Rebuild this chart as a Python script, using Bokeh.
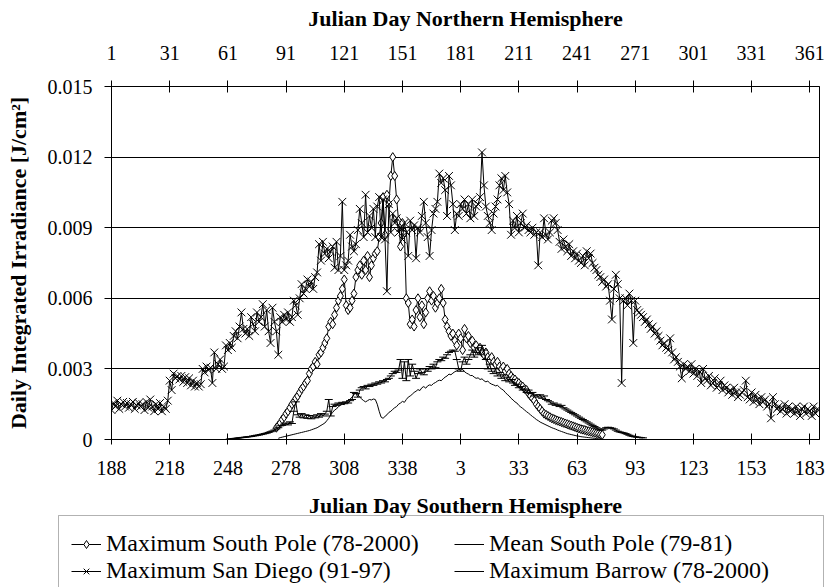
from bokeh.plotting import figure
from bokeh.layouts import column
from bokeh.models import (Range1d, LinearAxis, FixedTicker, Legend, LegendItem,
                          BoxAnnotation, Label)
from bokeh.embed import file_html
from bokeh.resources import INLINE

FONT = "Liberation Serif"

# ---- axis ticks -------------------------------------------------------------
north_ticks = [1, 31, 61, 91, 121, 151, 181, 211, 241, 271, 301, 331, 361]
south_tick_labels = ["188", "218", "248", "278", "308", "338", "3", "33",
                     "63", "93", "123", "153", "183"]
y_ticks = [0.0, 0.003, 0.006, 0.009, 0.012, 0.015]
y_tick_labels = ["0", "0.003", "0.006", "0.009", "0.012", "0.015"]

# ---- series (x = Julian day, northern hemisphere) ----------------------------
# Maximum San Diego (91-97), days 1..365
sd_first_day = 1
sd_vals = [
    .00125, .00155, .00140, .00165, .00130, .00150, .00160, .00140, .00155, .00135,
    .00150, .00160, .00130, .00145, .00155, .00140, .00150, .00125, .00160, .00135,
    .00170, .00140, .00120, .00150, .00130, .00155, .00120, .00140, .00130, .00165,
    .00250, .00210, .00280, .00260, .00270, .00255, .00270, .00245, .00265, .00240,
    .00260, .00230, .00250, .00225, .00240, .00225, .00235, .00300, .00285, .00310,
    .00295, .00305, .00240, .00370, .00300, .00320, .00340, .00300, .00310, .00400,
    .00380, .00410, .00390, .00440, .00460, .00430, .00480, .00540, .00470, .00450,
    .00470, .00440, .00520, .00490, .00460, .00540, .00500, .00520, .00575, .00480,
    .00550, .00460, .00410, .00560, .00500, .00460, .00360, .00520, .00500, .00530,
    .00510, .00540, .00500, .00520, .00590, .00570, .00530, .00600, .00660, .00620,
    .00640, .00680, .00650, .00670, .00640, .00690, .00710, .00830, .00760, .00840,
    .00790, .00810, .00770, .00800, .00820, .00730, .00840, .00720, .00780, .01010,
    .00720, .00740, .00760, .00870, .00820, .00800, .00830, .00890, .00980, .00920,
    .00860, .01040, .00880, .00950, .00900, .00980, .00860, .00990, .01030, .00860,
    .01020, .00850, .00630, .01000, .00880, .00960, .00920, .00940, .00880, .00900,
    .00850, .00920, .00880, .00780, .00930, .00890, .00910, .00770, .00900, .00880,
    .00950, .01010, .00920, .00860, .00780, .00890, .00960, .00980, .01010, .01130,
    .01090, .01110, .01060, .00950, .01120, .01080, .01000, .00890, .00960, .00950,
    .01000, .00980, .01020, .00960, .01000, .00940, .01020, .00950, .00990, .01000,
    .01030, .01220, .01080, .00990, .00950, .00920, .00890, .00960, .00990, .01020,
    .01080, .01110, .01060, .01120, .01050, .01000, .00870, .00930, .00900, .00950,
    .00880, .00920, .00960, .00900, .00910, .00890, .00880, .00900, .00870, .00880,
    .00740, .00880, .00860, .00940, .00870, .00850, .00880, .00930, .00940, .00920,
    .00890, .00840, .00810, .00850, .00820, .00800, .00830, .00780, .00800, .00770,
    .00790, .00760, .00750, .00780, .00740, .00800, .00770, .00790, .00750, .00730,
    .00720, .00700, .00690, .00670, .00680, .00650, .00660, .00590, .00510, .00640,
    .00700, .00660, .00600, .00240, .00590, .00600, .00570, .00620, .00590, .00410,
    .00590, .00550, .00540, .00530, .00520, .00500, .00510, .00490, .00470, .00480,
    .00450, .00460, .00440, .00420, .00400, .00410, .00390, .00380, .00430, .00370,
    .00340, .00350, .00330, .00310, .00260, .00320, .00300, .00310, .00290, .00320,
    .00280, .00300, .00270, .00290, .00240, .00300, .00260, .00250, .00270, .00230,
    .00240, .00260, .00220, .00230, .00250, .00210, .00230, .00220, .00200, .00210,
    .00190, .00220, .00200, .00180, .00190, .00200, .00210, .00250, .00180, .00170,
    .00200, .00160, .00190, .00170, .00150, .00180, .00160, .00170, .00140, .00150,
    .00090, .00180, .00150, .00130, .00140, .00120, .00130, .00150, .00110, .00140,
    .00120, .00130, .00110, .00140, .00120, .00100, .00130, .00140, .00110, .00130,
    .00120, .00100, .00140, .00110, .00130,
]

# Maximum South Pole (78-2000), southern days shifted onto the northern calendar
sp_first_day = 86
sp_vals = [
    .00050, .00060, .00070, .00085, .00095, .00110, .00120, .00135, .00150, .00160,
    .00175, .00185, .00200, .00215, .00225, .00240, .00250, .00280, .00300, .00310,
    .00330, .00320, .00360, .00370, .00390, .00410, .00430, .00480, .00500, .00490,
    .00530, .00560, .00590, .00610, .00640, .00680, .00570, .00550, .00560, .00590,
    .00620, .00690, .00720, .00740, .00700, .00760, .00720, .00780, .00690, .00740,
    .00770, .00790, .00800, .00860, .00920, .01030, .00870, .01040, .01000, .01120,
    .01200, .01120, .01020, .00930, .00820, .00920, .00880, .00600, .00580, .00490,
    .00510, .00480, .00550, .00600, .00520, .00570, .00490, .00540, .00600, .00630,
    .00590, .00610, .00560, .00580, .00600, .00640, .00580, .00510, .00480, .00460,
    .00440, .00450, .00420, .00400, .00450, .00430, .00380, .00470, .00430, .00440,
    .00410, .00420, .00390, .00400, .00380, .00390, .00370, .00360, .00370, .00350,
    .00340, .00350, .00330, .00320, .00330, .00310, .00300, .00310, .00290, .00300,
    .00280, .00270, .00260, .00255, .00245, .00240, .00230, .00225, .00215, .00210,
    .00195, .00185, .00175, .00165, .00150, .00140, .00130, .00120, .00110, .00105,
    .00100, .00095, .00090, .00087, .00083, .00080, .00077, .00074, .00071, .00068,
    .00065, .00062, .00059, .00056, .00053, .00050, .00047, .00044, .00042, .00040,
    .00037, .00035, .00033, .00031, .00029, .00027, .00025, .00022, .00020,
]

# Mean South Pole (79-81)
mean_first_day = 87
mean_vals = [
    .00005, .00008, .00010, .00012, .00014, .00016, .00018, .00020, .00022, .00024,
    .00026, .00028, .00030, .00032, .00034, .00036, .00038, .00041, .00044, .00047,
    .00050, .00055, .00060, .00065, .00070, .00080, .00090, .00105, .00115, .00125,
    .00130, .00140, .00145, .00150, .00148, .00160, .00165, .00172, .00180, .00190,
    .00200, .00190, .00180, .00172, .00165, .00160, .00165, .00170, .00168, .00172,
    .00170, .00150, .00120, .00095, .00090, .00098, .00105, .00115, .00120, .00128,
    .00135, .00140, .00150, .00155, .00162, .00158, .00170, .00180, .00185, .00192,
    .00200, .00205, .00212, .00208, .00220, .00225, .00218, .00228, .00232, .00230,
    .00238, .00242, .00248, .00252, .00250, .00258, .00265, .00270, .00278, .00275,
    .00282, .00288, .00292, .00296, .00302, .00298, .00288, .00282, .00278, .00272,
    .00272, .00265, .00260, .00262, .00255, .00258, .00250, .00245, .00248, .00240,
    .00235, .00232, .00228, .00230, .00222, .00215, .00210, .00200, .00192, .00185,
    .00175, .00168, .00160, .00155, .00145, .00138, .00132, .00125, .00118, .00112,
    .00105, .00098, .00092, .00085, .00080, .00074, .00070, .00066, .00062, .00058,
    .00054, .00050, .00047, .00044, .00040, .00037, .00034, .00031, .00028, .00025,
    .00023, .00021, .00019, .00017, .00015, .00014, .00012, .00011, .00010, .00009,
    .00008, .00007, .00006, .00005, .00004, .00003, .00002, .00001,
]

# Maximum Barrow (78-2000)
br_first_day = 61
br_vals = [
    .00000, .00002, .00003, .00004, .00005, .00006, .00007, .00008, .00009, .00010,
    .00011, .00012, .00013, .00015, .00016, .00018, .00019, .00021, .00023, .00025,
    .00027, .00030, .00033, .00036, .00040, .00045, .00050, .00058, .00060, .00065,
    .00070, .00062, .00075, .00068, .00120, .00160, .00105, .00095, .00110, .00092,
    .00105, .00090, .00102, .00088, .00100, .00092, .00105, .00095, .00110, .00100,
    .00108, .00120, .00170, .00100, .00140, .00150, .00145, .00155, .00150, .00158,
    .00152, .00160, .00155, .00165, .00170, .00200, .00195, .00180, .00210, .00220,
    .00225, .00215, .00230, .00225, .00235, .00230, .00240, .00235, .00245, .00240,
    .00250, .00245, .00255, .00260, .00270, .00280, .00290, .00285, .00295, .00340,
    .00260, .00330, .00250, .00340, .00270, .00320, .00290, .00260, .00280, .00300,
    .00285, .00275, .00300, .00290, .00310, .00300, .00320, .00305, .00330, .00340,
    .00335, .00350, .00345, .00360, .00370, .00375, .00380, .00375, .00340, .00300,
    .00290, .00330, .00350, .00320, .00340, .00360, .00380, .00350, .00370, .00390,
    .00360, .00400, .00380, .00340, .00300, .00320, .00290, .00280, .00300, .00270,
    .00285, .00260, .00275, .00250, .00265, .00245, .00255, .00240, .00230, .00235,
    .00220, .00225, .00210, .00215, .00200, .00210, .00195, .00200, .00185, .00190,
    .00180, .00190, .00175, .00185, .00170, .00165, .00160, .00150, .00155, .00145,
    .00150, .00140, .00145, .00135, .00130, .00125, .00120, .00115, .00110, .00105,
    .00100, .00095, .00090, .00085, .00080, .00075, .00070, .00065, .00060, .00055,
    .00050, .00045, .00040, .00040, .00045, .00050, .00052, .00050, .00048, .00045,
    .00040, .00035, .00032, .00030, .00028, .00025, .00022, .00018, .00015, .00013,
    .00011, .00010, .00009, .00008, .00007,
]

legend_labels = ["Maximum South Pole (78-2000)", "Mean South Pole (79-81)",
                 "Maximum San Diego (91-97)", "Maximum Barrow (78-2000)"]


def day_axis(first, vals):
    return list(range(first, first + len(vals)))


sd_days = day_axis(sd_first_day, sd_vals)
sp_days = day_axis(sp_first_day, sp_vals)
mean_days = day_axis(mean_first_day, mean_vals)
br_days = day_axis(br_first_day, br_vals)

# series styles, shared by the chart and the legend swatches
SP_MARK = dict(marker="diamond", size=9, fill_color="white", line_color="black", line_width=1)
SD_MARK = dict(marker="x", size=11, line_color="black", line_width=1)
BR_MARK = dict(marker="dash", size=8, line_color="black", line_width=1)
LINE = dict(line_color="black", line_width=1)


def draw_series(fig):
    """Draw the four series on a figure; returns the renderers per series."""
    sp = [fig.line(sp_days, sp_vals, **LINE), fig.scatter(sp_days, sp_vals, **SP_MARK)]
    mean = [fig.line(mean_days, mean_vals, **LINE)]
    sd = [fig.line(sd_days, sd_vals, **LINE), fig.scatter(sd_days, sd_vals, **SD_MARK)]
    br = [fig.line(br_days, br_vals, **LINE), fig.scatter(br_days, br_vals, **BR_MARK)]
    return [sp, mean, sd, br]


# ---- main chart -------------------------------------------------------------
p = figure(width=829, height=482, output_backend="svg", toolbar_location=None,
           x_range=Range1d(1, 366), y_range=Range1d(0, 0.015),
           min_border_left=111, min_border_right=10,
           min_border_top=86, min_border_bottom=43)
p.outline_line_color = "black"
p.background_fill_color = "white"
p.border_fill_color = "white"

p.xgrid.visible = False
p.ygrid.ticker = FixedTicker(ticks=y_ticks)
p.ygrid.grid_line_color = "black"
p.ygrid.grid_line_width = 1


def style_axis(ax):
    ax.axis_line_color = "black"
    ax.axis_line_width = 1
    ax.major_tick_line_color = "black"
    ax.minor_tick_line_color = None
    ax.major_label_text_font = FONT
    ax.major_label_text_font_size = "20px"
    ax.major_label_text_color = "black"
    ax.axis_label_text_font = FONT
    ax.axis_label_text_font_size = "22px"
    ax.axis_label_text_font_style = "bold"
    ax.axis_label_text_color = "black"


# bottom axis: southern-hemisphere day numbers
xb = p.xaxis[0]
style_axis(xb)
xb.ticker = FixedTicker(ticks=north_ticks)
xb.major_label_overrides = dict(zip(north_ticks, south_tick_labels))
xb.major_tick_in = 6
xb.major_tick_out = 5
xb.major_label_standoff = 16

# top axis: northern-hemisphere day numbers
xt = LinearAxis(ticker=FixedTicker(ticks=north_ticks),
                axis_label="Julian Day Northern Hemisphere")
style_axis(xt)
xt.major_tick_in = 6
xt.major_tick_out = 6
xt.major_label_standoff = 21
xt.axis_label_standoff = 12
p.add_layout(xt, "above")

# left axis
yl = p.yaxis[0]
style_axis(yl)
yl.ticker = FixedTicker(ticks=y_ticks)
yl.major_label_overrides = dict(zip(y_ticks, y_tick_labels))
yl.axis_label = "Daily Integrated Irradiance [J/cm\u00b2]"
yl.major_tick_in = 0
yl.major_tick_out = 7
yl.major_label_standoff = 12
yl.axis_label_standoff = 14

draw_series(p)

# ---- lower panel: southern axis title and legend -----------------------------
LEG_H = 105
q = figure(width=829, height=LEG_H, output_backend="svg", toolbar_location=None,
           x_axis_location=None, y_axis_location=None,
           x_range=Range1d(-20, -10), y_range=Range1d(-1.0, -0.9),
           min_border=0, outline_line_color=None)
try:
    q.frame_align = False
except AttributeError:
    pass
q.title.visible = False
q.grid.visible = False
q.background_fill_color = "white"
q.border_fill_color = "white"

q.add_layout(Label(x=465, y=LEG_H - 23, x_units="screen", y_units="screen",
                   text="Julian Day Southern Hemisphere", text_font=FONT,
                   text_font_size="22px", text_font_style="bold",
                   text_color="black", text_align="center", text_baseline="middle"))

# the series again (outside this panel's ranges) so the legend has swatches
swatches = draw_series(q)

legend = Legend(
    items=[LegendItem(label=lbl, renderers=r) for lbl, r in zip(legend_labels, swatches)],
    orientation="horizontal", ncols=2,
    location=(71, 3),
    label_text_font=FONT, label_text_font_size="24px", label_text_color="black",
    glyph_width=30, glyph_height=20, label_standoff=5,
    label_width=348, spacing=-2, padding=0, margin=0,
    border_line_color=None, background_fill_alpha=0,
)
q.add_layout(legend)

q.add_layout(BoxAnnotation(left=58, right=823, top=LEG_H - 33, bottom=-20,
                           left_units="screen", right_units="screen",
                           top_units="screen", bottom_units="screen",
                           fill_alpha=0, line_color="black", line_width=1))

layout = column(p, q, spacing=0)
open("out.html", "w").write(file_html(layout, INLINE))
